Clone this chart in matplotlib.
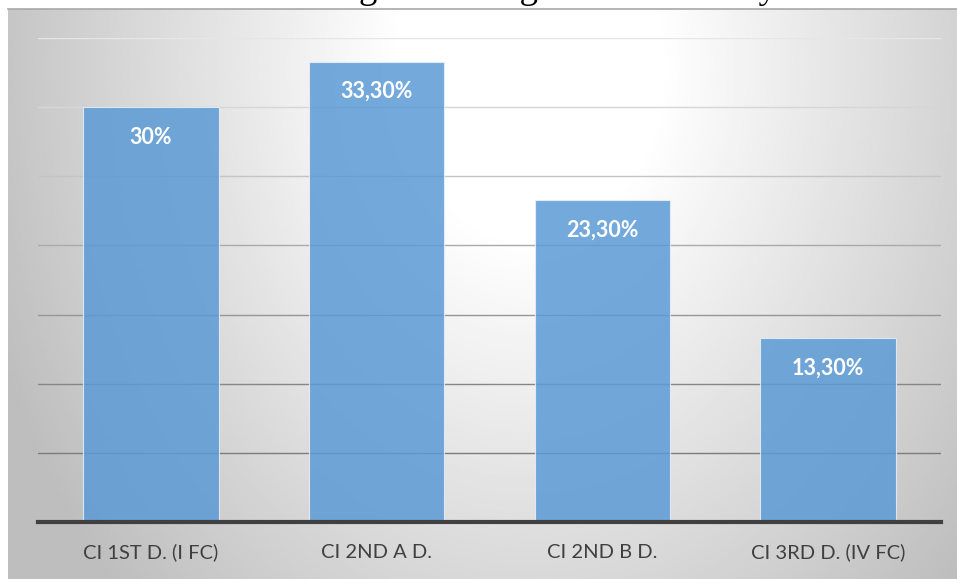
import numpy as np
import matplotlib
matplotlib.use("Agg")
import matplotlib.pyplot as plt

# data
categories = ["CI 1ST D. (I FC)", "CI 2ND A D.", "CI 2ND B D.", "CI 3RD D. (IV FC)"]
values = [30.0, 33.3, 23.3, 13.3]
value_labels = ["30%", "33,30%", "23,30%", "13,30%"]
grid_ticks = [5, 10, 15, 20, 25, 30, 35]
caption = "the clinical distribution according to the stages of circulatory insufficiency"

W, H = 957, 579
fig = plt.figure(figsize=(W / 100, H / 100), dpi=100)

# chart area background: radial grey gradient
bg = fig.add_axes([8 / W, 0, (W - 8) / W, (H - 9) / H])
fx, fy = np.meshgrid(np.linspace(0, 1, 400), np.linspace(0, 1, 300))
d = np.sqrt(((fx - 0.55) / 0.55) ** 2 + ((fy - 0.1) / 1.2) ** 2)
grey = (255 - 65 * np.clip((d - 0.25) / 0.85, 0, 1)) / 255.0
bg.imshow(grey, cmap="gray", vmin=0, vmax=1, aspect="auto",
          extent=[0, 1, 1, 0], interpolation="bilinear")
bg.set_xticks([])
bg.set_yticks([])
for side in ["left", "right", "bottom"]:
    bg.spines[side].set_visible(False)
bg.spines["top"].set_color("#a8a8a8")
bg.spines["top"].set_linewidth(1.2)

# cut-off caption line above the chart, placed so the "g" of "according" sits near x=357
cap_font = dict(family="Liberation Serif", fontsize=26.5)
renderer = fig.canvas.get_renderer()
probe = fig.text(0, 0, caption[:caption.index("according") + 8], **cap_font)
shift = probe.get_window_extent(renderer).width
probe.remove()
fig.text((357 + 2 - shift) / W, 1 + 2 / H, caption, color="black",
         va="baseline", ha="left", **cap_font)

ax = fig.add_axes([38 / W, (H - 522) / H, (941 - 38) / W, (522 - 38) / H])
ax.patch.set_alpha(0)
x = np.arange(len(categories))
bars = ax.bar(x, values, width=0.6, color="#5b9bd5", alpha=0.85,
              edgecolor="#e8f0f8", linewidth=0.8, zorder=3)

ax.set_xlim(-0.5, len(categories) - 0.5)
ax.set_ylim(0, 35)
ax.set_yticks(grid_ticks)
ax.yaxis.grid(True, linewidth=1.0, zorder=0)
ax.set_axisbelow(True)
grid_colors = ["#7c7c7c", "#868686", "#969696", "#aaaaaa", "#c4c4c4", "#d6d6d6", "#e6e6e6"]
for gl, c in zip(ax.get_ygridlines(), grid_colors):
    gl.set_color(c)
ax.tick_params(axis="y", left=False, labelleft=False)
ax.tick_params(axis="x", bottom=False, pad=12)
ax.set_xticks(x)
ax.set_xticklabels(categories, family="Lato", fontsize=14.5, color="#404040")

for side in ["left", "right", "top"]:
    ax.spines[side].set_visible(False)
ax.spines["bottom"].set_color("#404040")
ax.spines["bottom"].set_linewidth(3)
ax.spines["bottom"].set_zorder(5)

for b, lab in zip(bars, value_labels):
    ax.annotate(lab, (b.get_x() + b.get_width() / 2, b.get_height()),
                xytext=(0, -30), textcoords="offset pixels", ha="center", va="center",
                family="Lato", fontweight="bold", fontsize=15.5, color="white", zorder=6)

fig.savefig("out.png", dpi=100)
